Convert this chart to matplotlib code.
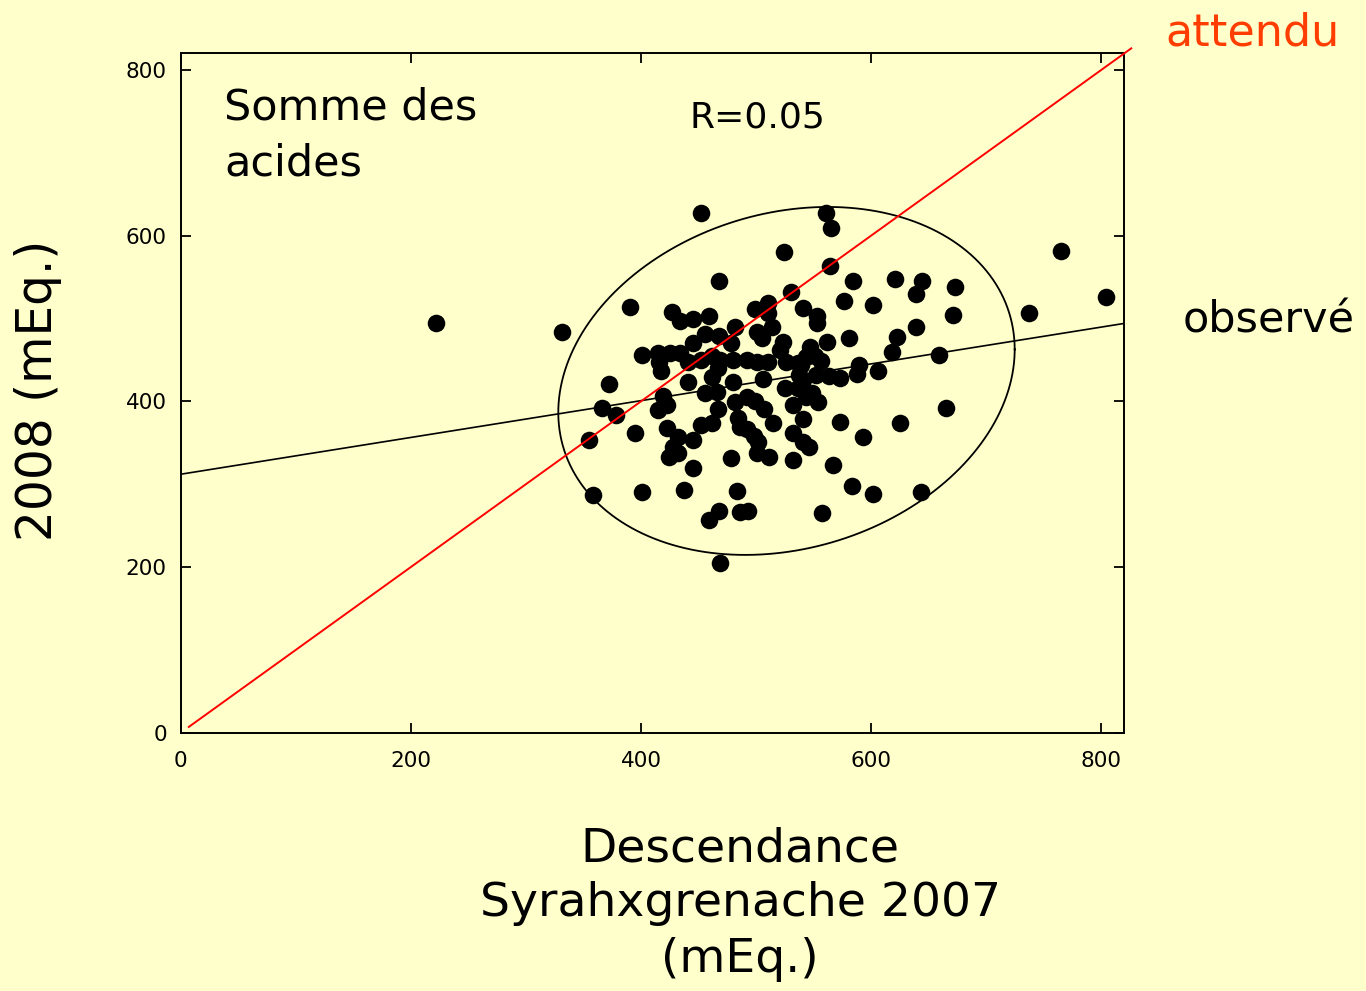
import numpy as np
import matplotlib
matplotlib.use("Agg")
import matplotlib.pyplot as plt

# ---- data ----
x_2007 = [222, 331, 355, 358, 366, 378, 372, 390, 395, 401, 401, 415, 416, 417, 425, 434,
          427, 434, 445, 459, 452, 468, 445, 456, 468, 478, 482, 499, 510, 510, 524, 530,
          541, 553, 553, 576, 561, 565, 564, 584, 621, 644, 639, 673, 602, 671, 737, 765,
          804, 639, 622, 581, 562, 618, 514, 501, 505, 523, 521, 547, 551, 556, 543, 539,
          526, 510, 501, 492, 480, 469, 462, 452, 441, 467, 462, 441, 480, 506, 537, 541,
          552, 563, 573, 589, 588, 606, 659, 525, 536, 549, 554, 532, 543, 499, 507, 492,
          482, 466, 456, 419, 423, 415, 467, 452, 462, 484, 486, 492, 498, 502, 501, 511,
          515, 541, 573, 593, 625, 665, 532, 541, 546, 532, 567, 583, 602, 643, 557, 423,
          432, 445, 428, 424, 432, 478, 445, 437, 483, 468, 459, 486, 493, 469, 536]
y_2008 = [495, 484, 353, 287, 392, 384, 421, 514, 362, 456, 291, 458, 448, 437, 458, 458,
          508, 497, 499, 503, 627, 545, 470, 481, 479, 470, 490, 511, 519, 507, 580, 532,
          513, 503, 495, 521, 627, 609, 563, 545, 548, 545, 530, 538, 516, 504, 507, 581,
          526, 490, 478, 476, 472, 460, 490, 484, 476, 472, 462, 466, 455, 449, 454, 444,
          448, 448, 448, 450, 450, 450, 455, 450, 448, 440, 429, 423, 423, 427, 432, 426,
          432, 431, 428, 444, 433, 437, 456, 416, 416, 410, 399, 396, 405, 400, 391, 405,
          399, 411, 410, 406, 396, 390, 391, 371, 374, 380, 369, 367, 358, 351, 338, 333,
          374, 379, 375, 357, 374, 392, 362, 351, 345, 329, 323, 298, 288, 291, 265, 368,
          357, 353, 345, 333, 338, 332, 320, 293, 292, 268, 257, 266, 268, 205, 446]

# observed regression line (intercept, slope) and expected line y = x
obs_intercept = 312
obs_slope = 0.222
expected_range = [7, 826]

# confidence ellipse: centre and two conjugate semi-diameters (data units)
ell_center = (526.4, 424.6)
ell_a = (198.3, 38.0)
ell_b = (0.0, 206.5)

ticks = [0, 200, 400, 600, 800]
BG = "#FFFFCC"

fig = plt.figure(figsize=(13.66, 9.91), dpi=100, facecolor=BG)
ax = fig.add_axes([0.1323, 0.2606, 0.6908, 0.6856], facecolor=BG)

ax.scatter(x_2007, y_2008, s=160, color="black", zorder=3, linewidths=0)

xl = np.array([0, 820])
ax.plot(xl, obs_intercept + obs_slope * xl, color="black", lw=1.2, zorder=4)
ax.plot(expected_range, expected_range, color="#ff0000", lw=1.4, zorder=5, clip_on=False)

t = np.linspace(0, 2 * np.pi, 400)
ex = ell_center[0] + ell_a[0] * np.cos(t) + ell_b[0] * np.sin(t)
ey = ell_center[1] + ell_a[1] * np.cos(t) + ell_b[1] * np.sin(t)
ax.plot(ex, ey, color="black", lw=1.3, zorder=4)

ax.set_xlim(0, 820)
ax.set_ylim(0, 820)
ax.set_xticks(ticks)
ax.set_yticks(ticks)
ax.tick_params(direction="in", length=7, width=1.3, top=True, right=True,
               labelsize=15.5, colors="black")
ax.tick_params(axis="x", pad=13)
ax.tick_params(axis="y", pad=10)
for sp in ax.spines.values():
    sp.set_linewidth(1.4)
    sp.set_color("black")

fig.text(0.164, 1 - 86 / 991, "Somme des\nacides", fontsize=31, ha="left", va="top",
         linespacing=1.45)
fig.text(757 / 1366, 1 - 118 / 991, "R=0.05", fontsize=26, ha="center", va="center")
fig.text(1253 / 1366, 1 - 45 / 991, "attendu", fontsize=32, color="#ff3d00",
         ha="center", va="baseline")
fig.text(1269 / 1366, 1 - 333 / 991, "observé", fontsize=31, color="black",
         ha="center", va="baseline")
fig.text(38 / 1366, 1 - 390 / 991, "2008 (mEq.)", fontsize=35, rotation=90,
         ha="center", va="center")
fig.text(740 / 1366, 1 - 904 / 991, "Descendance\nSyrahxgrenache 2007\n(mEq.)",
         fontsize=34, ha="center", va="center", linespacing=1.3)

fig.savefig("out.png", dpi=100, facecolor=BG)
